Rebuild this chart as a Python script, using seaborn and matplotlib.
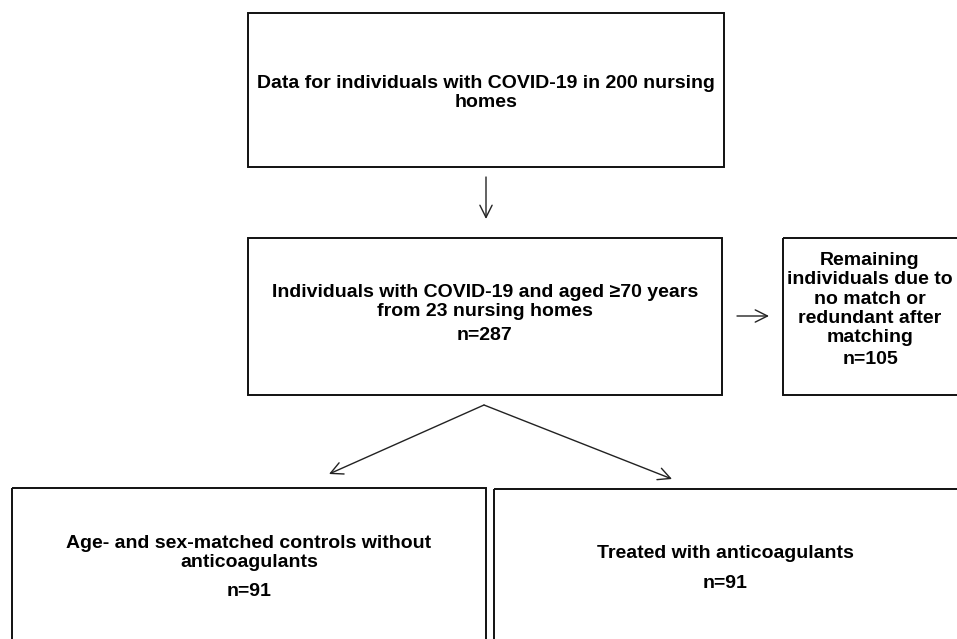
import seaborn as sns
import matplotlib.pyplot as plt
from matplotlib.patches import Rectangle

# flowchart content
box_texts = [
    "Data for individuals with COVID-19 in 200 nursing\nhomes",
    "Individuals with COVID-19 and aged \u226570 years\nfrom 23 nursing homes",
    "Remaining\nindividuals due to\nno match or\nredundant after\nmatching",
    "Age- and sex-matched controls without\nanticoagulants",
    "Treated with anticoagulants",
]
box_counts = [None, 287, 105, 91, 91]

# layout in pixel units (x0, y0, x1, y1)
box_xy = [
    (248, 13, 724, 167),
    (248, 238, 722, 395),
    (783, 238, 962, 395),
    (12, 488, 486, 645),
    (494, 489, 962, 645),
]
text_y = [93, 302, 299, 553, 553]
count_y = [None, 335, 359, 592, 583]
arrows = [
    ((486, 177), (486, 219)),
    ((737, 316), (769, 316)),
    ((484, 405), (329, 474)),
    ((484, 405), (672, 479)),
]

sns.set_theme(style="white")
plt.rcParams['font.family'] = ['Liberation Sans', 'DejaVu Sans']

fig = plt.figure(figsize=(9.57, 6.39), dpi=100)
ax = fig.add_axes([0, 0, 1, 1])
ax.set_xlim(0, 957)
ax.set_ylim(639, 0)
ax.axis('off')

for i, (x0, y0, x1, y1) in enumerate(box_xy):
    ax.add_patch(Rectangle((x0, y0), x1 - x0, y1 - y0, fill=False,
                           edgecolor='#111111', lw=1.4))
    cx = (x0 + min(x1, 957)) / 2
    ax.text(cx, text_y[i], box_texts[i], ha='center', va='center',
            fontsize=14, fontweight='bold', linespacing=1.16, color='black')
    if box_counts[i] is not None:
        ax.text(cx, count_y[i], f"n={box_counts[i]}", ha='center', va='center',
                fontsize=14, fontweight='bold', color='black')

for start, end in arrows:
    ax.annotate('', xy=end, xytext=start,
                arrowprops=dict(arrowstyle='->', color='#222222', lw=1,
                                mutation_scale=22, shrinkA=0, shrinkB=0))

fig.savefig('out.png', dpi=100, facecolor='white')
